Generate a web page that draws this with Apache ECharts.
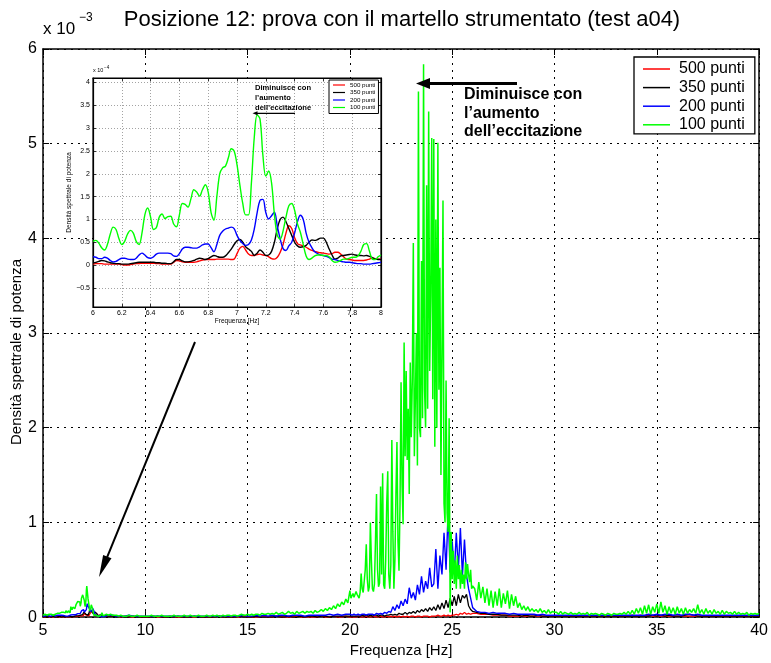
<!DOCTYPE html>
<html><head><meta charset="utf-8">
<script src="https://cdn.jsdelivr.net/npm/echarts@6/dist/echarts.min.js"></script>
<style>html,body{margin:0;padding:0;background:#fff}#c{width:771px;height:663px}</style>
</head><body><div id="c"></div>
<script>
// ---------- labels ----------
const titleText = 'Posizione 12: prova con il martello strumentato (test a04)';
const xName = 'Frequenza [Hz]';
const yName = 'Densità spettrale di potenza';
const names = ['500 punti', '350 punti', '200 punti', '100 punti'];
const colors = ['#ff0000', '#000000', '#0000ff', '#00ff00'];
const insetYTicks = [-0.5, 0, 0.5, 1, 1.5, 2, 2.5, 3, 3.5, 4];

// ---------- main plot data (units of 1e-3) ----------
// 5.0 - 5.9 Hz, step 0.1
const redLow   = [0.00,0.00,0.01,0.00,0.00,0.00,0.01,0.00,0.00,0.00];
const blackLow = [0.00,0.01,0.00,0.01,0.00,0.01,0.00,0.00,0.01,0.00];
const blueLow  = [0.01,0.01,0.02,0.01,0.01,0.02,0.01,0.02,0.02,0.02];
const greenLow = [0.02,0.03,0.02,0.03,0.03,0.02,0.03,0.04,0.04,0.05];

// 8.2 - 20.0 Hz, step 0.2
const redMid = [0.01,0.01,0.01,0.00,0.01,0.00,0.00,0.01,0.00,0.00,
 0.00,0.01,0.00,0.00,0.00,0.01,0.00,0.00,0.00,0.00,
 0.00,0.00,0.01,0.00,0.00,0.00,0.00,0.01,0.00,0.00,
 0.00,0.00,0.00,0.01,0.00,0.00,0.00,0.00,0.01,0.00,
 0.00,0.01,0.00,0.00,0.00,0.00,0.01,0.00,0.00,0.00,
 0.00,0.00,0.01,0.00,0.00,0.01,0.00,0.00,0.01,0.00];
const blackMid = [0.01,0.01,0.00,0.01,0.00,0.00,0.01,0.00,0.00,0.00,
 0.00,0.00,0.01,0.00,0.00,0.00,0.00,0.01,0.00,0.00,
 0.00,0.01,0.00,0.00,0.00,0.00,0.00,0.01,0.00,0.00,
 0.00,0.00,0.01,0.00,0.00,0.00,0.01,0.00,0.00,0.00,
 0.00,0.01,0.00,0.00,0.01,0.00,0.00,0.01,0.00,0.01,
 0.01,0.00,0.01,0.01,0.00,0.01,0.01,0.01,0.01,0.01];
const blueMid = [0.02,0.02,0.01,0.01,0.01,0.02,0.01,0.01,0.01,0.01,
 0.01,0.01,0.01,0.01,0.01,0.01,0.01,0.01,0.01,0.01,
 0.01,0.01,0.01,0.01,0.01,0.01,0.01,0.01,0.01,0.01,
 0.01,0.01,0.01,0.02,0.01,0.01,0.02,0.01,0.02,0.01,
 0.02,0.01,0.02,0.02,0.01,0.02,0.02,0.02,0.01,0.02,
 0.02,0.02,0.02,0.02,0.03,0.02,0.03,0.02,0.03,0.03];
// 8.1 - 20.0 Hz, step 0.1
const greenMid = [0.03,0.02,0.03,0.02,0.02,0.02,0.01,0.02,0.01,0.01,
 0.01,0.02,0.01,0.01,0.01,0.02,0.01,0.01,0.01,0.01,
 0.01,0.01,0.02,0.01,0.01,0.01,0.01,0.02,0.01,0.01,
 0.01,0.01,0.01,0.02,0.01,0.01,0.01,0.01,0.02,0.01,
 0.01,0.02,0.01,0.01,0.01,0.02,0.01,0.01,0.01,0.02,
 0.01,0.01,0.02,0.01,0.02,0.01,0.01,0.02,0.01,0.02,
 0.02,0.01,0.02,0.02,0.01,0.02,0.03,0.02,0.02,0.03,
 0.02,0.03,0.02,0.03,0.03,0.02,0.04,0.03,0.03,0.04,
 0.03,0.04,0.03,0.05,0.03,0.04,0.05,0.03,0.04,0.06,
 0.04,0.05,0.03,0.06,0.04,0.05,0.06,0.04,0.06,0.05,
 0.06,0.04,0.07,0.05,0.06,0.08,0.06,0.09,0.07,0.10,
 0.08,0.12,0.09,0.14,0.11,0.16,0.13,0.19,0.15,0.28];

// 20.1 - 26.0 Hz, step 0.1
const redPeak = [0.00,0.00,0.00,0.01,0.00,0.00,0.00,0.01,0.00,0.00,
 0.00,0.01,0.00,0.00,0.01,0.00,0.00,0.01,0.00,0.01,
 0.00,0.01,0.00,0.01,0.00,0.01,0.00,0.01,0.00,0.01,
 0.01,0.00,0.01,0.01,0.00,0.01,0.01,0.01,0.00,0.01,
 0.01,0.01,0.02,0.01,0.01,0.02,0.01,0.02,0.01,0.02,
 0.02,0.03,0.02,0.04,0.03,0.05,0.03,0.04,0.03,0.04];
const blackPeak = [0.01,0.01,0.01,0.01,0.01,0.02,0.01,0.02,0.01,0.02,
 0.01,0.02,0.02,0.01,0.02,0.02,0.01,0.02,0.02,0.03,
 0.02,0.03,0.02,0.04,0.03,0.03,0.05,0.03,0.05,0.04,
 0.06,0.04,0.07,0.05,0.08,0.06,0.09,0.06,0.10,0.07,
 0.11,0.07,0.13,0.08,0.15,0.09,0.18,0.10,0.20,0.12,
 0.22,0.12,0.24,0.15,0.23,0.20,0.24,0.12,0.08,0.06];
const bluePeak = [0.02,0.03,0.02,0.03,0.02,0.03,0.03,0.02,0.03,0.03,
 0.03,0.02,0.04,0.03,0.04,0.03,0.05,0.04,0.06,0.05,
 0.11,0.07,0.13,0.09,0.17,0.12,0.19,0.14,0.31,0.20,
 0.26,0.18,0.34,0.24,0.43,0.26,0.38,0.30,0.52,0.32,
 0.35,0.72,0.30,0.65,0.45,0.89,0.50,1.12,0.47,0.80,
 0.45,0.89,0.50,0.94,0.44,0.82,0.44,0.30,0.20,0.10];
// 20.05 - 26.00 Hz, step 0.05
const greenPeak = [0.20,0.22,0.25,0.21,0.20,0.27,0.24,0.22,0.20,0.26,
 0.46,0.30,0.26,0.28,0.50,0.77,0.40,0.27,0.32,1.00,
 0.60,0.30,0.27,0.35,0.80,1.30,0.50,0.32,0.36,1.38,
 0.45,1.52,0.34,0.30,0.60,1.20,1.54,0.45,0.30,0.55,
 1.87,0.90,0.30,0.60,1.30,1.85,0.80,0.49,1.20,2.48,
 1.40,0.98,2.90,1.70,2.60,1.66,2.20,1.30,2.69,1.90,
 2.50,3.95,1.70,2.30,3.00,1.60,5.55,2.00,1.90,3.76,
 2.10,5.84,2.40,2.00,4.56,2.20,5.34,2.60,3.40,5.06,
 2.30,5.05,1.80,4.20,2.00,5.01,2.40,3.69,1.50,2.80,
 4.40,1.20,1.00,2.50,1.10,0.90,2.10,0.05,0.90,0.40,
 0.70,0.35,0.60,0.30,0.65,0.40,0.55,0.30,0.50,0.35,
 0.45,0.30,0.58,0.40,0.56,0.45,0.37,0.50,0.30,0.33];

// 26.2 - 40.0 Hz, step 0.2
const redHigh = [0.04,0.03,0.03,0.03,0.02,0.02,0.02,0.02,0.01,0.01,
 0.01,0.01,0.01,0.01,0.01,0.01,0.01,0.01,0.01,0.01,
 0.01,0.01,0.01,0.01,0.01,0.01,0.01,0.01,0.01,0.01,
 0.01,0.01,0.01,0.01,0.01,0.01,0.01,0.01,0.02,0.01,
 0.02,0.01,0.02,0.01,0.01,0.01,0.01,0.01,0.01,0.01,
 0.01,0.01,0.01,0.01,0.01,0.01,0.01,0.01,0.01,0.01,
 0.01,0.01,0.01,0.01,0.01,0.01,0.01,0.01,0.01,0.01];
const blackHigh = [0.05,0.04,0.04,0.03,0.03,0.03,0.02,0.02,0.02,0.02,
 0.02,0.01,0.02,0.01,0.01,0.02,0.01,0.01,0.01,0.01,
 0.01,0.01,0.01,0.01,0.01,0.01,0.01,0.01,0.01,0.01,
 0.01,0.01,0.01,0.01,0.01,0.01,0.01,0.01,0.01,0.01,
 0.01,0.01,0.01,0.02,0.01,0.02,0.01,0.02,0.01,0.01,
 0.01,0.02,0.03,0.02,0.01,0.01,0.01,0.01,0.01,0.01,
 0.01,0.01,0.01,0.01,0.01,0.01,0.01,0.01,0.01,0.01];
const blueHigh = [0.06,0.05,0.05,0.04,0.05,0.04,0.04,0.04,0.03,0.04,
 0.03,0.03,0.03,0.03,0.03,0.02,0.03,0.02,0.02,0.02,
 0.02,0.02,0.02,0.02,0.02,0.02,0.02,0.02,0.02,0.02,
 0.02,0.02,0.02,0.02,0.02,0.02,0.02,0.02,0.02,0.02,
 0.02,0.02,0.03,0.02,0.03,0.02,0.03,0.03,0.02,0.03,
 0.02,0.03,0.03,0.02,0.03,0.02,0.02,0.02,0.02,0.02,
 0.02,0.02,0.02,0.02,0.02,0.02,0.02,0.02,0.02,0.02];
// 26.1 - 40.0 Hz, step 0.1
const greenHigh = [0.30,0.18,0.37,0.20,0.32,0.15,0.30,0.12,0.28,0.10,
 0.27,0.12,0.30,0.10,0.25,0.14,0.28,0.09,0.24,0.12,
 0.22,0.10,0.15,0.08,0.12,0.07,0.11,0.06,0.09,0.06,
 0.08,0.05,0.09,0.05,0.07,0.04,0.08,0.04,0.06,0.05,
 0.05,0.03,0.06,0.03,0.05,0.04,0.03,0.05,0.03,0.04,
 0.03,0.05,0.03,0.04,0.03,0.05,0.02,0.04,0.03,0.04,
 0.03,0.02,0.04,0.03,0.02,0.04,0.03,0.02,0.04,0.03,
 0.03,0.04,0.03,0.05,0.03,0.06,0.03,0.07,0.03,0.09,
 0.04,0.10,0.03,0.12,0.04,0.13,0.03,0.11,0.05,0.14,
 0.04,0.16,0.05,0.12,0.03,0.11,0.04,0.10,0.03,0.11,
 0.04,0.09,0.03,0.10,0.04,0.08,0.05,0.09,0.04,0.13,
 0.04,0.08,0.03,0.09,0.04,0.07,0.03,0.08,0.04,0.06,
 0.03,0.07,0.03,0.06,0.04,0.05,0.03,0.06,0.03,0.05,
 0.03,0.04,0.03,0.05,0.02,0.04,0.03,0.04,0.03,0.04];

// ---------- inset data: 6.00 - 8.00 Hz, step 0.02 (units of 1e-4) ----------
const insetRed = [0.02,0.03,0.03,0.03,0.02,0.02,0.02,0.02,0.02,0.02,
 0.01,0.00,0.00,0.01,0.02,0.03,0.03,0.04,0.04,0.04,
 0.04,0.04,0.03,0.03,0.02,0.02,0.02,0.02,0.06,0.10,
 0.09,0.07,0.06,0.06,0.06,0.06,0.07,0.09,0.11,0.12,
 0.12,0.12,0.12,0.13,0.13,0.13,0.13,0.13,0.12,0.13,
 0.25,0.37,0.41,0.33,0.24,0.21,0.21,0.23,0.24,0.22,
 0.21,0.18,0.14,0.13,0.17,0.28,0.45,0.70,0.86,0.80,
 0.60,0.47,0.44,0.42,0.39,0.35,0.32,0.30,0.28,0.27,
 0.26,0.25,0.24,0.25,0.28,0.28,0.24,0.18,0.13,0.12,
 0.11,0.10,0.10,0.10,0.10,0.11,0.13,0.15,0.14,0.13,
 0.13];
const insetBlack = [0.04,0.06,0.08,0.10,0.09,0.07,0.05,0.04,0.03,0.03,
 0.02,0.02,0.02,0.03,0.04,0.05,0.06,0.06,0.06,0.06,
 0.06,0.06,0.05,0.05,0.04,0.04,0.03,0.03,0.07,0.12,
 0.12,0.09,0.07,0.07,0.08,0.10,0.13,0.15,0.14,0.12,
 0.14,0.18,0.21,0.19,0.17,0.17,0.20,0.27,0.35,0.45,
 0.53,0.56,0.50,0.40,0.35,0.30,0.21,0.26,0.33,0.28,
 0.21,0.22,0.30,0.50,0.80,1.00,1.05,0.95,0.80,0.65,
 0.50,0.42,0.39,0.40,0.43,0.50,0.55,0.54,0.56,0.59,
 0.59,0.50,0.35,0.22,0.13,0.15,0.20,0.21,0.22,0.23,
 0.24,0.22,0.21,0.21,0.20,0.21,0.19,0.16,0.13,0.12,
 0.12];
const insetBlue = [0.18,0.17,0.14,0.14,0.17,0.15,0.10,0.07,0.08,0.12,
 0.15,0.15,0.13,0.12,0.12,0.15,0.22,0.26,0.22,0.16,
 0.15,0.18,0.24,0.26,0.26,0.26,0.26,0.25,0.20,0.19,
 0.25,0.35,0.39,0.39,0.38,0.37,0.37,0.40,0.44,0.46,
 0.46,0.38,0.29,0.45,0.65,0.74,0.79,0.81,0.83,0.80,
 0.65,0.54,0.47,0.43,0.45,0.55,0.79,1.15,1.42,1.44,
 1.15,1.01,1.08,1.16,0.85,0.57,0.36,0.32,0.42,0.50,
 0.70,0.95,1.09,1.00,0.70,0.50,0.38,0.29,0.25,0.22,
 0.21,0.19,0.16,0.13,0.12,0.10,0.08,0.07,0.06,0.06,
 0.05,0.04,0.03,0.03,0.02,0.02,0.02,0.03,0.04,0.05,
 0.06];
const insetGreen = [0.52,0.54,0.48,0.38,0.33,0.45,0.68,0.83,0.78,0.58,
 0.45,0.52,0.68,0.76,0.70,0.52,0.45,0.70,1.10,1.25,
 1.05,0.78,0.82,1.05,1.12,1.02,1.06,1.07,0.90,0.84,
 1.10,1.35,1.33,1.27,1.45,1.65,1.60,1.51,1.65,1.76,
 1.60,1.15,0.98,1.50,2.00,2.13,2.17,2.35,2.55,2.50,
 2.20,1.75,1.35,1.10,1.10,1.80,2.80,3.29,3.20,2.40,
 1.95,2.06,1.80,1.10,0.65,0.57,0.75,1.05,1.30,1.35,
 1.20,0.90,0.72,0.45,0.20,0.12,0.15,0.20,0.22,0.22,
 0.21,0.21,0.18,0.10,0.06,0.07,0.10,0.13,0.13,0.15,
 0.17,0.17,0.20,0.30,0.45,0.47,0.30,0.13,0.12,0.18,
 0.22];

// ---------- helpers ----------
function seg(start, step, vals, scale) {
  const k = scale === undefined ? 1 : scale;
  return vals.map((v, i) => [+(start + i * step).toFixed(3), +(v * k).toFixed(5)]);
}
const mainSeriesData = [
  [].concat(seg(5.0,0.1,redLow),   seg(6.0,0.02,insetRed,0.1),   seg(8.2,0.2,redMid),   seg(20.1,0.1,redPeak),    seg(26.2,0.2,redHigh)),
  [].concat(seg(5.0,0.1,blackLow), seg(6.0,0.02,insetBlack,0.1), seg(8.2,0.2,blackMid), seg(20.1,0.1,blackPeak),  seg(26.2,0.2,blackHigh)),
  [].concat(seg(5.0,0.1,blueLow),  seg(6.0,0.02,insetBlue,0.1),  seg(8.2,0.2,blueMid),  seg(20.1,0.1,bluePeak),   seg(26.2,0.2,blueHigh)),
  [].concat(seg(5.0,0.1,greenLow), seg(6.0,0.02,insetGreen,0.1), seg(8.1,0.1,greenMid), seg(20.05,0.05,greenPeak),seg(26.1,0.1,greenHigh))
];
const insetSeriesData = [insetRed, insetBlack, insetBlue, insetGreen].map(a => seg(6.0, 0.02, a));

const FONT = '"Liberation Sans", Arial, Helvetica, sans-serif';

function arrow(x1, y1, x2, y2, hl, hw, lw, z) {
  const dx = x2 - x1, dy = y2 - y1, L = Math.hypot(dx, dy), ux = dx / L, uy = dy / L;
  const bx = x2 - ux * hl, by = y2 - uy * hl, px = -uy, py = ux;
  return [
    {type: 'line', z: z, silent: true, shape: {x1: x1, y1: y1, x2: bx + ux, y2: by + uy}, style: {stroke: '#000', lineWidth: lw}},
    {type: 'polygon', z: z, silent: true, shape: {points: [[x2, y2], [bx + px * hw / 2, by + py * hw / 2], [bx - px * hw / 2, by - py * hw / 2]]}, style: {fill: '#000'}}
  ];
}
function txt(x, y, text, font, align, z, rot) {
  return {type: 'text', x: x, y: y, z: z || 30, rotation: rot || 0, silent: true,
    style: {text: text, font: font, fill: '#000', align: align || 'left', verticalAlign: 'middle',
            textAlign: align || 'left', textVerticalAlign: 'middle'}};
}

const chart = echarts.init(document.getElementById('c'), null, {renderer: 'canvas'});

const dotted = {type: [2, 5], color: '#000', width: 1};
const insetDotted = {type: [1, 2], color: '#8c8c8c', width: 0.8};
const mainWidths = [1.3, 1.3, 1.4, 1.5];

const series = [];
names.forEach((n, i) => {
  series.push({name: n, type: 'line', xAxisIndex: 0, yAxisIndex: 0, data: mainSeriesData[i],
    symbol: 'none', showSymbol: false, color: colors[i], lineStyle: {color: colors[i], width: mainWidths[i]},
    z: 2 + i * 0.01, animation: false, emphasis: {disabled: true}});
});
series.push({name: '', type: 'line', xAxisIndex: 2, yAxisIndex: 2, data: [], z: 11, animation: false,
  markLine: {silent: true, symbol: 'none', z: 11, animation: false, label: {show: false},
    lineStyle: insetDotted, emphasis: {disabled: true},
    data: insetYTicks.map(v => ({yAxis: v}))}});
names.forEach((n, i) => {
  series.push({name: n, type: 'line', xAxisIndex: 2, yAxisIndex: 2, data: insetSeriesData[i],
    symbol: 'none', showSymbol: false, smooth: 0.35, color: colors[i], lineStyle: {color: colors[i], width: 1.4},
    z: 12, animation: false, emphasis: {disabled: true}});
});

const option = {
  animation: false,
  textStyle: {fontFamily: FONT, color: '#000'},
  grid: [
    {left: 43, top: 49, width: 718, height: 573, show: false},
    {left: 93, top: 78, width: 288, height: 229, show: true, backgroundColor: '#fff', borderColor: '#000', borderWidth: 1.2, z: 10}
  ],
  xAxis: [
    {gridIndex: 0, type: 'value', min: 5, max: 40, interval: 5, position: 'bottom',
     name: xName, nameLocation: 'middle', nameGap: 19, nameTextStyle: {fontSize: 15, color: '#000'},
     axisLine: {onZero: false, lineStyle: {color: '#000', width: 1.5}},
     axisTick: {inside: true, length: 6, lineStyle: {color: '#000'}},
     axisLabel: {fontSize: 16, color: '#000', margin: 5},
     splitLine: {show: true, lineStyle: dotted}},
    {gridIndex: 0, type: 'value', min: 5, max: 40, interval: 5, position: 'top',
     axisLine: {onZero: false, lineStyle: {color: '#000', width: 1.5}},
     axisTick: {inside: true, length: 6, lineStyle: {color: '#000'}},
     axisLabel: {show: false}, splitLine: {show: false}},
    {gridIndex: 1, type: 'value', min: 6, max: 8, interval: 0.2, position: 'bottom', z: 11,
     name: xName, nameLocation: 'middle', nameGap: 9, nameTextStyle: {fontSize: 6.5, color: '#000'},
     axisLine: {onZero: false, lineStyle: {color: '#000', width: 1.2}},
     axisTick: {inside: true, length: 3, lineStyle: {color: '#000', width: 0.8}},
     axisLabel: {fontSize: 7, color: '#000', margin: 3},
     splitLine: {show: true, lineStyle: insetDotted}},
    {gridIndex: 1, type: 'value', min: 6, max: 8, interval: 0.2, position: 'top', z: 11,
     axisLine: {onZero: false, lineStyle: {color: '#000', width: 1.2}},
     axisTick: {inside: true, length: 3, lineStyle: {color: '#000', width: 0.8}},
     axisLabel: {show: false}, splitLine: {show: false}}
  ],
  yAxis: [
    {gridIndex: 0, type: 'value', min: 0, max: 6, interval: 1, position: 'left',
     axisLine: {show: true, onZero: false, lineStyle: {color: '#000', width: 1.5}},
     axisTick: {show: true, inside: true, length: 6, lineStyle: {color: '#000'}},
     axisLabel: {fontSize: 16, color: '#000', margin: 6},
     splitLine: {show: true, lineStyle: dotted}},
    {gridIndex: 0, type: 'value', min: 0, max: 6, interval: 1, position: 'right',
     axisLine: {show: true, onZero: false, lineStyle: {color: '#000', width: 1.5}},
     axisTick: {show: true, inside: true, length: 6, lineStyle: {color: '#000'}},
     axisLabel: {show: false}, splitLine: {show: false}},
    {gridIndex: 1, type: 'value', min: -0.92, max: 4.1, position: 'left', z: 11,
     name: yName, nameLocation: 'middle', nameGap: 16, nameTextStyle: {fontSize: 6.5, color: '#000'},
     axisLine: {show: true, onZero: false, lineStyle: {color: '#000', width: 1.2}},
     axisTick: {show: true, inside: true, length: 3, customValues: insetYTicks, lineStyle: {color: '#000', width: 0.8}},
     axisLabel: {fontSize: 7, color: '#000', margin: 3, customValues: insetYTicks,
                 formatter: v => (v < 0 ? '\u2212' + Math.abs(v) : String(v))},
     splitLine: {show: false}},
    {gridIndex: 1, type: 'value', min: -0.92, max: 4.1, position: 'right', z: 11,
     axisLine: {show: true, onZero: false, lineStyle: {color: '#000', width: 1.2}},
     axisTick: {show: true, inside: true, length: 3, customValues: insetYTicks, lineStyle: {color: '#000', width: 0.8}},
     axisLabel: {show: false}, splitLine: {show: false}}
  ],
  legend: [
    {data: names, orient: 'vertical', left: 634, top: 57, padding: [4, 10, 1, 9], itemGap: 2.6,
     itemWidth: 27, itemHeight: 1.5, icon: 'rect', borderColor: '#000', borderWidth: 1.3,
     backgroundColor: '#fff', selectedMode: false, z: 20,
     textStyle: {fontSize: 16, color: '#000', fontFamily: FONT, padding: [0, 0, 0, 4]}},
    {data: names, orient: 'vertical', left: 329, top: 80, padding: [2, 3, 3, 4], itemGap: 1.5,
     itemWidth: 12, itemHeight: 1.2, icon: 'rect', borderColor: '#000', borderWidth: 1,
     backgroundColor: '#fff', selectedMode: false, z: 20,
     textStyle: {fontSize: 6.2, color: '#000', fontFamily: FONT, padding: [0, 0, 0, 0]}}
  ],
  graphic: {elements: [].concat(
    [txt(402, 20, titleText, 'normal 22px ' + FONT, 'center'),
     txt(43, 29, 'x 10', 'normal 17px ' + FONT, 'left'),
     txt(79, 18, '\u22123', 'normal 12px ' + FONT, 'left'),
     txt(17, 352, yName, 'normal 15px ' + FONT, 'center', 30, Math.PI / 2),
     txt(464, 95, 'Diminuisce con', 'bold 16px ' + FONT, 'left'),
     txt(464, 114, 'l\u2019aumento', 'bold 16px ' + FONT, 'left'),
     txt(464, 132, 'dell\u2019eccitazione', 'bold 16px ' + FONT, 'left'),
     txt(93, 70.5, 'x 10', 'normal 5.5px ' + FONT, 'left'),
     txt(104, 68, '\u22124', 'normal 4.5px ' + FONT, 'left'),
     txt(255, 88, 'Diminuisce con', 'bold 7.6px ' + FONT, 'left'),
     txt(255, 98, 'l\u2019aumento', 'bold 7.6px ' + FONT, 'left'),
     txt(255, 107.5, 'dell\u2019eccitazione', 'bold 7.6px ' + FONT, 'left')],
    arrow(517, 83.5, 416, 83.5, 14, 11, 3, 30),
    arrow(195, 342, 99, 577, 22, 9, 2, 30),
    arrow(295, 113.3, 252.5, 113.3, 5, 4, 1.2, 30)
  )},
  series: series
};
chart.setOption(option);
</script></body></html>
